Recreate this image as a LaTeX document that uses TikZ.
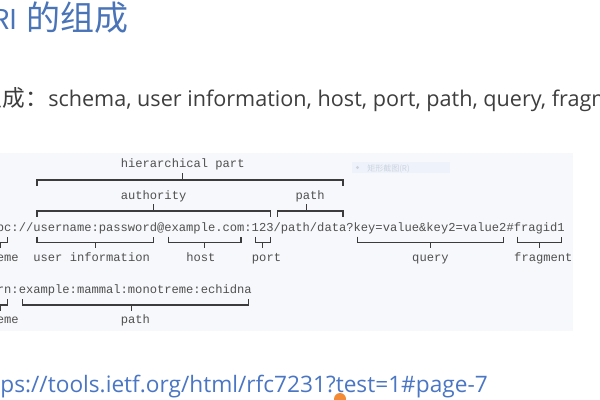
\documentclass[tikz,border=0pt]{standalone}
\usepackage{fontspec}
\newfontfamily\cjk{Noto Sans CJK SC}
\newfontfamily\monof{Liberation Mono}
\newfontfamily\latinf{Open Sans}
\definecolor{titleblue}{HTML}{4A74B8}
\definecolor{urlblue}{HTML}{4A76C4}
\definecolor{bodygray}{HTML}{3E3E3E}
\definecolor{panelbg}{HTML}{F7F8FB}
\definecolor{monotext}{HTML}{505050}
\definecolor{brkcol}{HTML}{3C3C3C}
\definecolor{tipbg}{HTML}{EEF2FA}
\definecolor{tiptext}{HTML}{CDD4E0}
\definecolor{dotorange}{HTML}{F28A36}
% left edge of monospace character column #1
\newcommand\cl[1]{{-3.07+(#1)*7.286}}
% top brace: first index, last index, tick index, y
\newcommand\TopBrace[4]{%
  \draw[brk] (\cl{#1+0.5},#4+5.5) -- (\cl{#1+0.5},#4) -- (\cl{#2+0.5},#4) -- (\cl{#2+0.5},#4+5.5);
  \draw[brk] (\cl{#3+0.5},#4) -- ++(0,-7);}
% bottom brace: first index, last index, tick index, y
\newcommand\BotBrace[4]{%
  \draw[brk] (\cl{#1+0.5},#4-6) -- (\cl{#1+0.5},#4) -- (\cl{#2+0.5},#4) -- (\cl{#2+0.5},#4-6);
  \draw[brk] (\cl{#3+0.5},#4) -- ++(0,5.5);}
\begin{document}
\begin{tikzpicture}[x=0.75pt,y=-0.75pt,
  mono/.style={font=\monof\fontsize{9.1}{10}\selectfont, text=monotext, inner sep=0, outer sep=0, anchor=base west},
  brk/.style={draw=brkcol, line width=0.8pt},
  titlelat/.style={font=\cjk\fontsize{20.5}{24}\selectfont, text=titleblue, inner sep=0},
  title/.style={font=\cjk\fontsize{25.5}{30}\selectfont, text=titleblue, inner sep=0},
  bodycjk/.style={font=\cjk\fontsize{17}{20}\selectfont, text=bodygray, inner sep=0},
  bodylat/.style={font=\latinf\fontsize{16.2}{19}\selectfont, text=bodygray, inner sep=0, anchor=base west},
  url/.style={font=\latinf\fontsize{17}{20}\selectfont, text=urlblue, inner sep=0, anchor=base east}]
\clip (0,0) rectangle (600,400);
\fill[white] (0,0) rectangle (600,400);
% title and body text
\node[titlelat, anchor=base east] (title1) at (18,29) {URI};
\node[title, anchor=base west] (title2) at (26,30) {的组成};
\node[bodycjk, anchor=base east] (l2a) at (48,106) {组成：};
\node[bodylat] (l2b) at (48,106) {schema, user information, host, port, path, query, fragment};
% panel
\fill[panelbg] (-1,153) rectangle (573,331);
% faint tooltip
\fill[tipbg] (352,162) rectangle (450,173);
\fill[tiptext] (357.5,167.5) circle (1.6);
\node[font=\cjk\fontsize{6}{7}\selectfont, text=tiptext, inner sep=0, anchor=base west] (tip) at (367,171) {矩形截图(R)};
% labels above
\node[mono] (hier) at (\cl{17},167) {hierarchical part};
\node[mono] (auth) at (\cl{17},199) {authority};
\node[mono] (ptop) at (\cl{41},199) {path};
\TopBrace{5}{47}{25}{180}
\TopBrace{5}{37}{21}{211}
\TopBrace{38}{47}{42}{211}
% URI line
\node[mono] (uri) at (\cl{-1},231) {abc://username:password@example.com:123/path/data?key=value\&key2=value2\#fragid1};
\BotBrace{-1}{1}{0}{242.5}
\BotBrace{5}{21}{13}{242.5}
\BotBrace{23}{33}{28}{242.5}
\BotBrace{35}{37}{36}{242.5}
\BotBrace{49}{69}{59}{242.5}
\BotBrace{71}{77}{74}{242.5}
\node[mono] (sch1) at (\cl{-3},261) {scheme};
\node[mono] (ui) at (\cl{5},261) {user information};
\node[mono] (host) at (\cl{26},261) {host};
\node[mono] (port) at (\cl{35},261) {port};
\node[mono] (query) at (\cl{57},261) {query};
\node[mono] (frag) at (\cl{71},261) {fragment};
% URN line
\node[mono] (urn) at (\cl{-1},293) {urn:example:mammal:monotreme:echidna};
\BotBrace{-1}{1}{0}{305}
\BotBrace{3}{34}{18}{305}
\node[mono] (sch2) at (\cl{-3},323) {scheme};
\node[mono] (path2) at (\cl{17},323) {path};
% URL
\node[url] (link) at (488,392) {https://tools.ietf.org/html/rfc7231?test=1\#page-7};
% orange dot
\fill[dotorange] (340,399) circle (6);
\end{tikzpicture}
\end{document}
